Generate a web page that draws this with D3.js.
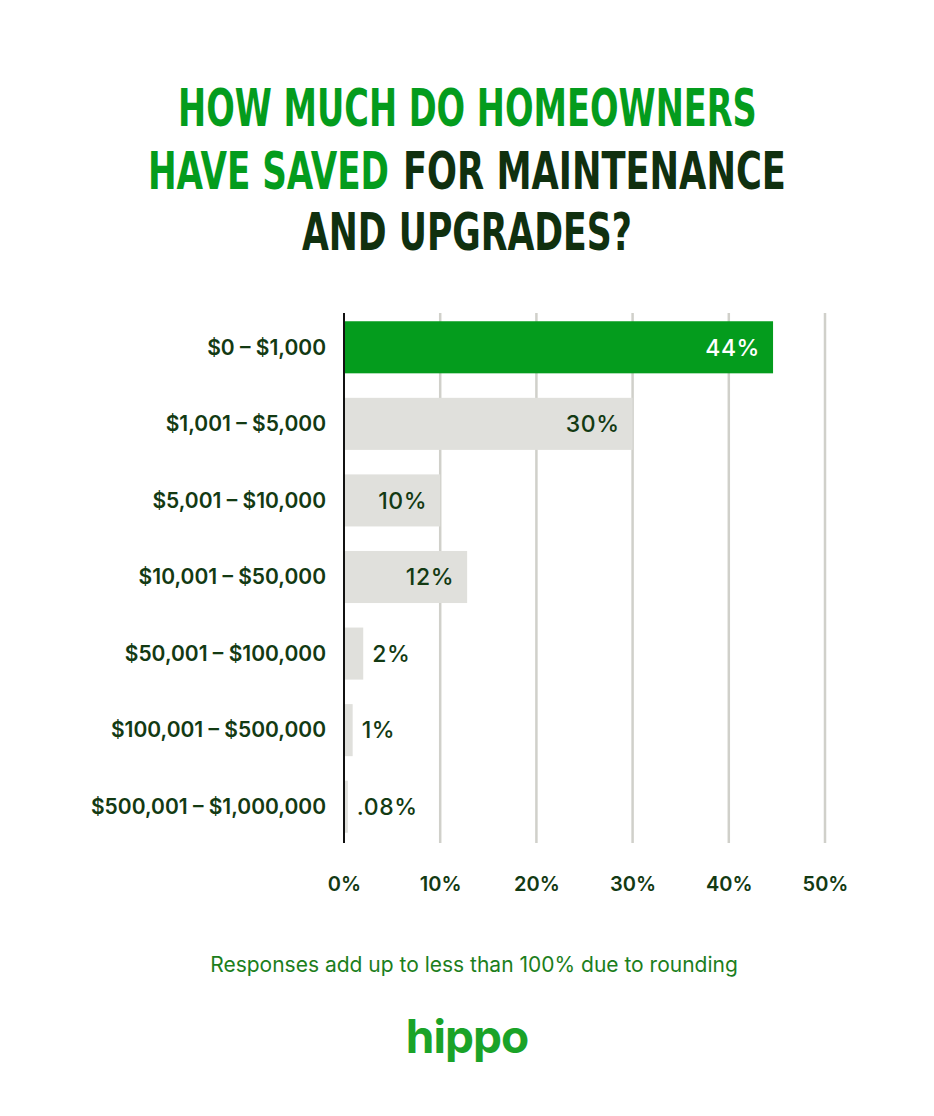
<!DOCTYPE html>
<html>
<head>
<meta charset="utf-8">
<script src="https://cdn.jsdelivr.net/npm/d3@7"></script>
<style>
  body { margin: 0; background: #fff; }
  svg { display: block; }
</style>
</head>
<body>
<div id="chart"></div>
<script>
// data
const categories = ["$0 – $1,000", "$1,001 – $5,000", "$5,001 – $10,000", "$10,001 – $50,000",
    "$50,001 – $100,000", "$100,001 – $500,000", "$500,001 – $1,000,000"];
const barValues = [44.6, 30, 10, 12.8, 2, 0.9, 0.4];
const valueLabels = ["44%", "30%", "10%", "12%", "2%", "1%", ".08%"];
const ticks = [0, 10, 20, 30, 40, 50];

const width = 934, height = 1116;
const green = "#049c1d", dark = "#133a13", titleDark = "#10300f";

const svg = d3.select("#chart").append("svg")
    .attr("width", width)
    .attr("height", height);

// title, each piece squeezed to the width seen in the picture
const titleParts = [
    { t: "HOW MUCH DO HOMEOWNERS", c: green, x: 178, w: 579, y: 126 },
    { t: "HAVE SAVED", c: green, x: 148, w: 241, y: 189 },
    { t: "FOR MAINTENANCE", c: titleDark, x: 403, w: 383, y: 189 },
    { t: "AND UPGRADES?", c: titleDark, x: 302, w: 330, y: 250 }
];
svg.append("g").selectAll("text")
    .data(titleParts)
    .join("text")
    .attr("fill", d => d.c)
    .style("font-family", "'Liberation Sans Narrow', 'DejaVu Sans Condensed', sans-serif")
    .style("font-weight", "bold")
    .style("font-size", "52px")
    .text(d => d.t)
    .each(function (d) {
        const natural = this.getComputedTextLength();
        d3.select(this).attr("transform", `translate(${d.x},${d.y}) scale(${d.w / natural},1)`);
    });

// scales
const x = d3.scaleLinear().domain([0, 50]).range([344, 825]);
const y = d3.scaleBand().domain(categories).range([309, 845]).paddingInner(0.32).paddingOuter(0.16);

// gridlines
svg.append("g").selectAll("line")
    .data(ticks.slice(1))
    .join("line")
    .attr("x1", d => x(d)).attr("x2", d => x(d))
    .attr("y1", 313).attr("y2", 843)
    .attr("stroke", "#d0d0ca")
    .attr("stroke-width", 2.5);

// bars
svg.append("g").selectAll("rect")
    .data(barValues)
    .join("rect")
    .attr("x", x(0))
    .attr("y", (d, i) => y(categories[i]))
    .attr("width", d => x(d) - x(0))
    .attr("height", y.bandwidth())
    .attr("fill", (d, i) => i == 0 ? green : "#e0e0dc");

// zero line
svg.append("line")
    .attr("x1", x(0)).attr("x2", x(0))
    .attr("y1", 313).attr("y2", 843)
    .attr("stroke", "#111")
    .attr("stroke-width", 2);

// category labels
svg.append("g").selectAll("text")
    .data(categories)
    .join("text")
    .attr("x", 326)
    .attr("y", d => y(d) + y.bandwidth() / 2)
    .attr("dy", "0.35em")
    .attr("text-anchor", "end")
    .attr("fill", dark)
    .style("font-family", "Inter, sans-serif")
    .style("font-weight", 600)
    .style("font-size", "21px")
    .text(d => d);

// value labels
svg.append("g").selectAll("text")
    .data(barValues)
    .join("text")
    .attr("x", d => d > 5 ? x(d) - 13 : x(d) + 9)
    .attr("y", (d, i) => y(categories[i]) + y.bandwidth() / 2)
    .attr("dy", "0.36em")
    .attr("text-anchor", d => d > 5 ? "end" : "start")
    .attr("fill", (d, i) => i == 0 ? "#fff" : dark)
    .style("font-family", "Inter, sans-serif")
    .style("font-weight", 500)
    .style("font-size", "23px")
    .style("letter-spacing", "0.6px")
    .text((d, i) => valueLabels[i]);

// x axis
const axis = svg.append("g")
    .attr("transform", "translate(0,843)")
    .call(d3.axisBottom(x).tickValues(ticks).tickFormat(d => d + "%").tickSize(0).tickPadding(34));
axis.select(".domain").remove();
axis.selectAll("text")
    .attr("fill", dark)
    .style("font-family", "Inter, sans-serif")
    .style("font-weight", 600)
    .style("font-size", "20px");

// footnote
svg.append("text")
    .attr("x", 474)
    .attr("y", 972)
    .attr("text-anchor", "middle")
    .attr("fill", "#1c7e1c")
    .style("font-family", "Inter, sans-serif")
    .style("font-size", "21px")
    .text("Responses add up to less than 100% due to rounding");

// logo
svg.append("text")
    .attr("x", 467)
    .attr("y", 1053)
    .attr("text-anchor", "middle")
    .attr("fill", "#1aa328")
    .style("font-family", "Inter, sans-serif")
    .style("font-weight", 700)
    .style("font-size", "46px")
    .style("letter-spacing", "-1px")
    .text("hippo");
</script>
</body>
</html>
